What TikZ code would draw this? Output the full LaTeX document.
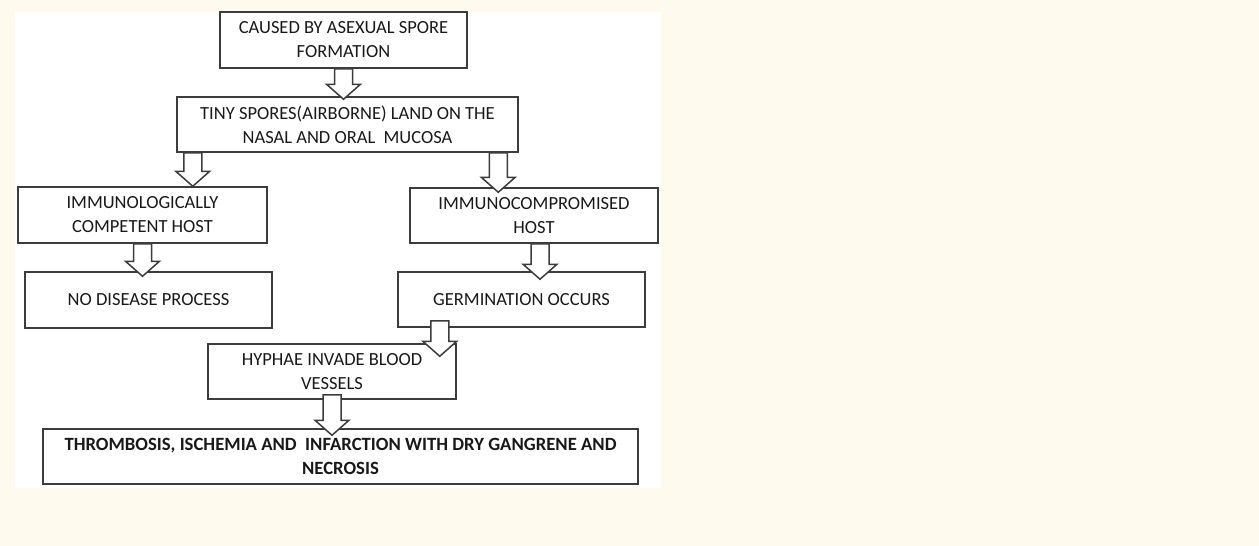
\documentclass[tikz,border=0pt]{standalone}
\usepackage{fontspec}
\setmainfont{Carlito}
\usepackage{tikz}
\usetikzlibrary{positioning, calc}
\definecolor{cream}{RGB}{254,251,238}
\definecolor{boxline}{RGB}{60,60,60}
\definecolor{boxtext}{RGB}{25,25,25}
\tikzset{box/.style={draw=boxline, line width=1.5pt, fill=white, text=boxtext, align=center, inner sep=0pt, font=\fontsize{18.5}{24}\selectfont},
	fatarrow/.style={draw=boxline, line width=1.5pt, fill=white, line join=miter}}
% hollow arrow pointing down, from #1 to the tip #2
\newcommand{\blockarrow}[2]{%
	\draw [fatarrow] let \p1=(#1), \p2=(#2) in
		(\x1-9pt,\y1) -- (\x1-9pt,\y2+15pt) -- (\x1-17pt,\y2+15pt) -- (\x1,\y2)
		-- (\x1+17pt,\y2+15pt) -- (\x1+9pt,\y2+15pt) -- (\x1+9pt,\y1) -- cycle;}

\begin{document}
\begin{tikzpicture}[x=1pt, y=-1pt]

			\fill [cream] (0,0) rectangle (1259,546);
			\fill [white] (15,12) rectangle (661,488);

			\node [box, minimum width=247pt, minimum height=56pt] (cause) at (343.5,40) {CAUSED BY ASEXUAL SPORE\\FORMATION};
			\node [box, minimum width=341pt, minimum height=55pt] (spores) at (347.5,124.5) {TINY SPORES(AIRBORNE) LAND ON THE\\NASAL AND ORAL\ \ MUCOSA};
			\node [box, minimum width=249pt, minimum height=56pt] (competent) at (142.5,215) {IMMUNOLOGICALLY\\COMPETENT HOST};
			\node [box, minimum width=248pt, minimum height=55pt] (compromised) at (534,215.5) {IMMUNOCOMPROMISED\\HOST};
			\node [box, minimum width=247pt, minimum height=56pt] (nodisease) at (148.5,300) {NO DISEASE PROCESS};
			\node [box, minimum width=247pt, minimum height=55pt] (germination) at (521.5,299.5) {GERMINATION OCCURS};
			\node [box, minimum width=248pt, minimum height=55pt] (hyphae) at (332,371.5) {HYPHAE INVADE BLOOD\\VESSELS};
			\node [box, minimum width=595pt, minimum height=55pt, font=\fontsize{18.7}{24}\selectfont\bfseries] (thrombosis) at (340.5,456.5) {THROMBOSIS, ISCHEMIA AND\ \ INFARCTION WITH DRY GANGRENE AND\\NECROSIS};

			%arrows
			\coordinate (s2) at ($(spores.south west)+(16.5,0)$);
			\coordinate (s3) at ($(spores.south east)+(-20.5,0)$);
			\coordinate (s5) at ($(compromised.south)+(6,0)$);
			\coordinate (s6) at ($(germination.south west)+(42.5,-7)$);
			\coordinate (s7) at ($(hyphae.south)+(0,-5)$);

			\blockarrow{cause.south}{$(cause.south |- spores.north)+(0,3)$}
			\blockarrow{s2}{s2 |- competent.north}
			\blockarrow{s3}{$(s3 |- compromised.north)+(0,5)$}
			\blockarrow{competent.south}{$(competent.south |- nodisease.north)+(0,5)$}
			\blockarrow{s5}{$(s5 |- germination.north)+(0,8)$}
			\blockarrow{s6}{$(s6 |- hyphae.north)+(0,13)$}
			\blockarrow{s7}{$(s7 |- thrombosis.north)+(0,7)$}

		\end{tikzpicture}
\end{document}
